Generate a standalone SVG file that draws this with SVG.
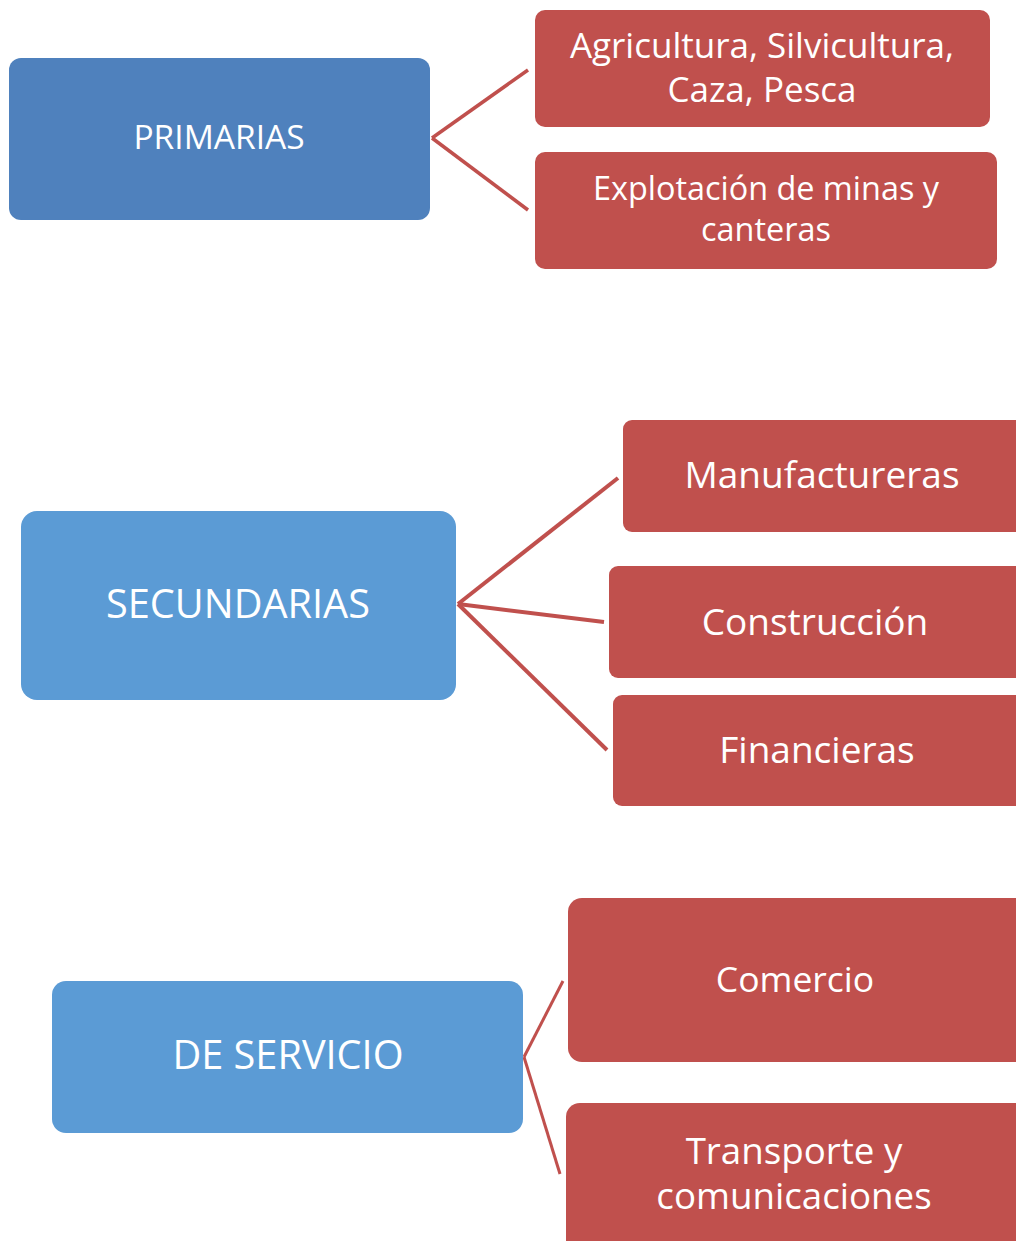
<svg xmlns="http://www.w3.org/2000/svg" width="1016" height="1241" viewBox="0 0 1016 1241">
<style>
.blue1{fill:#4F81BD}
.blue2{fill:#5B9BD5}
.red{fill:#C0504D}
text{font-family:"Open Sans","Noto Sans",sans-serif;fill:#FFFFFF;text-anchor:middle}
.conn line{stroke:#C0504D;stroke-linecap:butt}
</style>
<rect width="1016" height="1241" fill="#FFFFFF"/>
<g class="conn">
<line x1="432" y1="138" x2="528" y2="70" stroke-width="3.5"/>
<line x1="432" y1="138" x2="528" y2="210" stroke-width="3.5"/>
<line x1="458" y1="604" x2="618" y2="478" stroke-width="4"/>
<line x1="458" y1="604" x2="604" y2="622" stroke-width="4"/>
<line x1="458" y1="604" x2="607" y2="750" stroke-width="4"/>
<line x1="524" y1="1057" x2="563" y2="981" stroke-width="3"/>
<line x1="524" y1="1057" x2="560" y2="1174" stroke-width="3"/>
</g>
<g id="primarias">
<rect class="blue1" x="9" y="58" width="421" height="162" rx="12"/>
<text x="219" y="149" font-size="33.5">PRIMARIAS</text>
</g>
<g id="agricultura">
<rect class="red" x="535" y="10" width="455" height="117" rx="10"/>
<text x="762" y="58" font-size="35">Agricultura, Silvicultura,</text>
<text x="762" y="102" font-size="35">Caza, Pesca</text>
</g>
<g id="explotacion">
<rect class="red" x="535" y="152" width="462" height="117" rx="10"/>
<text x="766" y="200" font-size="32.4">Explotación de minas y</text>
<text x="766" y="241" font-size="32.4">canteras</text>
</g>
<g id="secundarias">
<rect class="blue2" x="21" y="511" width="435" height="189" rx="16"/>
<text x="238" y="618" font-size="39.7">SECUNDARIAS</text>
</g>
<g id="manufactureras">
<rect class="red" x="623" y="420" width="410" height="112" rx="9"/>
<text x="822" y="488" font-size="37">Manufactureras</text>
</g>
<g id="construccion">
<rect class="red" x="609" y="566" width="424" height="112" rx="9"/>
<text x="815" y="635" font-size="37">Construcción</text>
</g>
<g id="financieras">
<rect class="red" x="613" y="695" width="420" height="111" rx="9"/>
<text x="817" y="763" font-size="37">Financieras</text>
</g>
<g id="deservicio">
<rect class="blue2" x="52" y="981" width="471" height="152" rx="14"/>
<text x="288" y="1069" font-size="39.7">DE SERVICIO</text>
</g>
<g id="comercio">
<rect class="red" x="568" y="898" width="465" height="164" rx="14"/>
<text x="795" y="992" font-size="35.5">Comercio</text>
</g>
<g id="transporte">
<rect class="red" x="566" y="1103" width="467" height="160" rx="14"/>
<text x="794" y="1164" font-size="36.7">Transporte y</text>
<text x="794" y="1209" font-size="36.7">comunicaciones</text>
</g>
</svg>
